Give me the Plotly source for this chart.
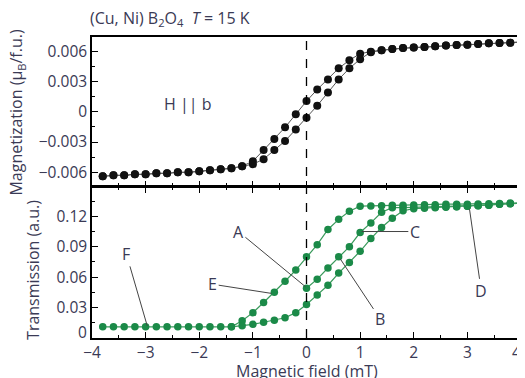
import numpy as np
import plotly.graph_objects as go

# ---------------- data ----------------
field_m = np.round(np.arange(-3.8, 4.01, 0.2), 1)  # mT
mag_upper = [-0.0064, -0.0063, -0.0063, -0.0062, -0.0062, -0.0061, -0.0061, -0.0060,
             -0.0060, -0.0059, -0.0058, -0.0057, -0.0056, -0.0054, -0.0049, -0.0038,
             -0.0027, -0.00155, -0.00025, 0.00105, 0.0022, 0.0032, 0.0043, 0.0051,
             0.00575, 0.00595, 0.0061, 0.0062, 0.0063, 0.00635, 0.0064, 0.00648,
             0.00655, 0.0066, 0.00664, 0.0067, 0.00677, 0.0068, 0.00683, 0.0069]
mag_lower = [-0.0064, -0.0063, -0.0063, -0.0062, -0.0062, -0.0061, -0.0061, -0.0060,
             -0.0060, -0.0059, -0.0058, -0.0057, -0.0056, -0.0054, -0.0052, -0.0047,
             -0.0038, -0.0029, -0.00175, -0.0006, 0.0006, 0.0019, 0.0032, 0.0043,
             0.0052, 0.0059, 0.0061, 0.0062, 0.0063, 0.00635, 0.0064, 0.00648,
             0.00655, 0.0066, 0.00664, 0.0067, 0.00677, 0.0068, 0.00683, 0.0069]

field_t1 = np.round(np.arange(-3.8, 4.01, 0.2), 1)
trans_1 = [0.011] * 13 + [0.017, 0.025, 0.035, 0.045, 0.056, 0.067, 0.080, 0.092, 0.107,
                          0.117, 0.125, 0.130, 0.1302, 0.1305, 0.131, 0.131, 0.1312,
                          0.1315, 0.1315, 0.132, 0.132, 0.132, 0.1322, 0.1325, 0.1327,
                          0.133, 0.133]
field_t2 = np.round(np.arange(0.0, 4.01, 0.2), 1)
trans_2 = [0.049, 0.058, 0.069, 0.080, 0.090, 0.104, 0.1135, 0.124, 0.1285, 0.1285,
           0.1288, 0.129, 0.129, 0.1295, 0.1295, 0.130, 0.1305, 0.131, 0.132, 0.1325, 0.133]
field_t3 = np.round(np.arange(-1.4, 4.01, 0.2), 1)
trans_3 = [0.011, 0.012, 0.0135, 0.0155, 0.0175, 0.020, 0.025, 0.033, 0.0425, 0.052,
           0.064, 0.0745, 0.0855, 0.098, 0.109, 0.118, 0.1255, 0.1275, 0.128, 0.1285,
           0.129, 0.1295, 0.130, 0.1305, 0.131, 0.132, 0.1325, 0.133]

x_ticks = [-4, -3, -2, -1, 0, 1, 2, 3, 4]
m_ticks = [-0.006, -0.003, 0, 0.003, 0.006]
m_ticktext = ["\u22120.006", "\u22120.003", "0", "0.003", "0.006"]
t_ticks = [0, 0.03, 0.06, 0.09, 0.12]
t_ticktext = ["", "0.03", "0.06", "0.09", "0.12"]
x_ticktext = ["\u22124", "\u22123", "\u22122", "\u22121", "0", "1", "2", "3", ""]

# labels: (text, label x, label y, tip x, tip y)
curve_labels = [
    ("F", -3.36, 0.083, -2.97, 0.012),
    ("E", -1.75, 0.053, -0.655, 0.044),
    ("A", -1.27, 0.105, -0.02, 0.0506),
    ("B", 1.37, 0.019, 0.63, 0.078),
    ("C", 2.02, 0.105, 1.03, 0.105),
    ("D", 3.26, 0.046, 3.04, 0.127),
]

# ---------------- figure ----------------
FONT = "Open Sans"
TXT = "#3a3a55"
GREEN = "#1b8a48"
FS = 16
TFS = 15.5

fig = go.Figure()
for ys in (mag_upper, mag_lower):
    fig.add_trace(go.Scatter(x=field_m, y=ys, mode="lines+markers", xaxis="x", yaxis="y",
                             line=dict(color="#555555", width=1),
                             marker=dict(color="#111111", size=8), showlegend=False))
for xs, ys in ((field_t1, trans_1), (field_t2, trans_2), (field_t3, trans_3)):
    fig.add_trace(go.Scatter(x=xs, y=ys, mode="lines+markers", xaxis="x2", yaxis="y2",
                             line=dict(color="#3a9a5c", width=1.2),
                             marker=dict(color=GREEN, size=7.5), showlegend=False))

axis_common = dict(showline=True, linecolor="black", linewidth=1.5, ticks="inside",
                   tickcolor="black", ticklen=6, tickwidth=1.2, showgrid=False,
                   zeroline=False, automargin=False, ticklabeloverflow="allow",
                   tickfont=dict(family=FONT, size=TFS, color=TXT))

# the page is shown with an 8 px body margin, so the figure is sized to fit the window
fig.update_layout(
    width=517, height=370,
    margin=dict(l=84, r=4, t=29, b=39.5),
    paper_bgcolor="white", plot_bgcolor="white",
    xaxis=dict(axis_common, domain=[0, 1], range=[-4, 4], anchor="y", mirror=True,
               tickvals=x_ticks, showticklabels=False,
               minor=dict(ticks="inside", ticklen=3.5, dtick=0.5, tick0=0, tickcolor="black")),
    yaxis=dict(axis_common, domain=[0.5035, 1], range=[-0.0074, 0.0074], anchor="x",
               mirror=True, tickvals=m_ticks, ticktext=m_ticktext,
               minor=dict(ticks="inside", ticklen=3.5, dtick=0.0015, tick0=0, tickcolor="black")),
    xaxis2=dict(axis_common, domain=[0, 1], range=[-4, 4], anchor="y2", mirror="ticks",
                tickvals=x_ticks, ticktext=x_ticktext,
                minor=dict(ticks="inside", ticklen=3.5, dtick=0.5, tick0=0, tickcolor="black")),
    yaxis2=dict(axis_common, domain=[0, 0.501], range=[0, 0.1487], anchor="x2",
                mirror=True, tickvals=t_ticks, ticktext=t_ticktext,
                minor=dict(ticks="inside", ticklen=3.5, dtick=0.015, tick0=0, tickcolor="black")),
    shapes=[dict(type="line", xref="x", yref="paper", x0=0, x1=0, y0=0, y1=1,
                 line=dict(color="black", width=1.3, dash="dash"))],
)

def txt_font(size=FS):
    return dict(family=FONT, size=size, color=TXT)

ann = []
for txt, lx, ly, tx, ty in curve_labels:
    ann.append(dict(x=tx, y=ty, xref="x2", yref="y2", ax=lx, ay=ly, axref="x2", ayref="y2",
                    text=txt, showarrow=True, arrowhead=0, arrowwidth=1, arrowcolor="#444444",
                    font=txt_font()))
ann.append(dict(x=-2.21, y=0.0008, xref="x", yref="y", xanchor="center", yanchor="middle",
                text="H || b", showarrow=False, font=txt_font()))
# zero label of the transmission axis (raised above the corner as in the original)
ann.append(dict(x=-0.007, y=0.02, xref="paper", yref="paper", xanchor="right", yanchor="middle",
                text="0", showarrow=False, font=txt_font(TFS)))
# last field label at the right corner
ann.append(dict(x=4, y=-0.048, xref="x2", yref="paper", xanchor="right", yanchor="middle",
                xshift=2, text="4", showarrow=False, font=txt_font(TFS)))
ann.append(dict(x=-0.01, y=1.063, xref="paper", yref="paper", xanchor="left", yanchor="middle",
                text="(Cu, Ni) B<sub>2</sub>O<sub>4</sub>  <i>T</i> = 15 K", showarrow=False,
                font=txt_font()))
ann.append(dict(x=-0.175, y=0.752, xref="paper", yref="paper", textangle=-90,
                xanchor="center", yanchor="middle",
                text="Magnetization (\u03bc<sub>B</sub>/f.u.)", showarrow=False, font=txt_font()))
ann.append(dict(x=-0.136, y=0.225, xref="paper", yref="paper", textangle=-90,
                xanchor="center", yanchor="middle",
                text="Transmission (a.u.)", showarrow=False, font=txt_font()))
ann.append(dict(x=0.5, y=-0.111, xref="paper", yref="paper", xanchor="center", yanchor="middle",
                text="Magnetic field (mT)", showarrow=False, font=txt_font()))
fig.update_layout(annotations=ann)

fig.write_html("out.html")
